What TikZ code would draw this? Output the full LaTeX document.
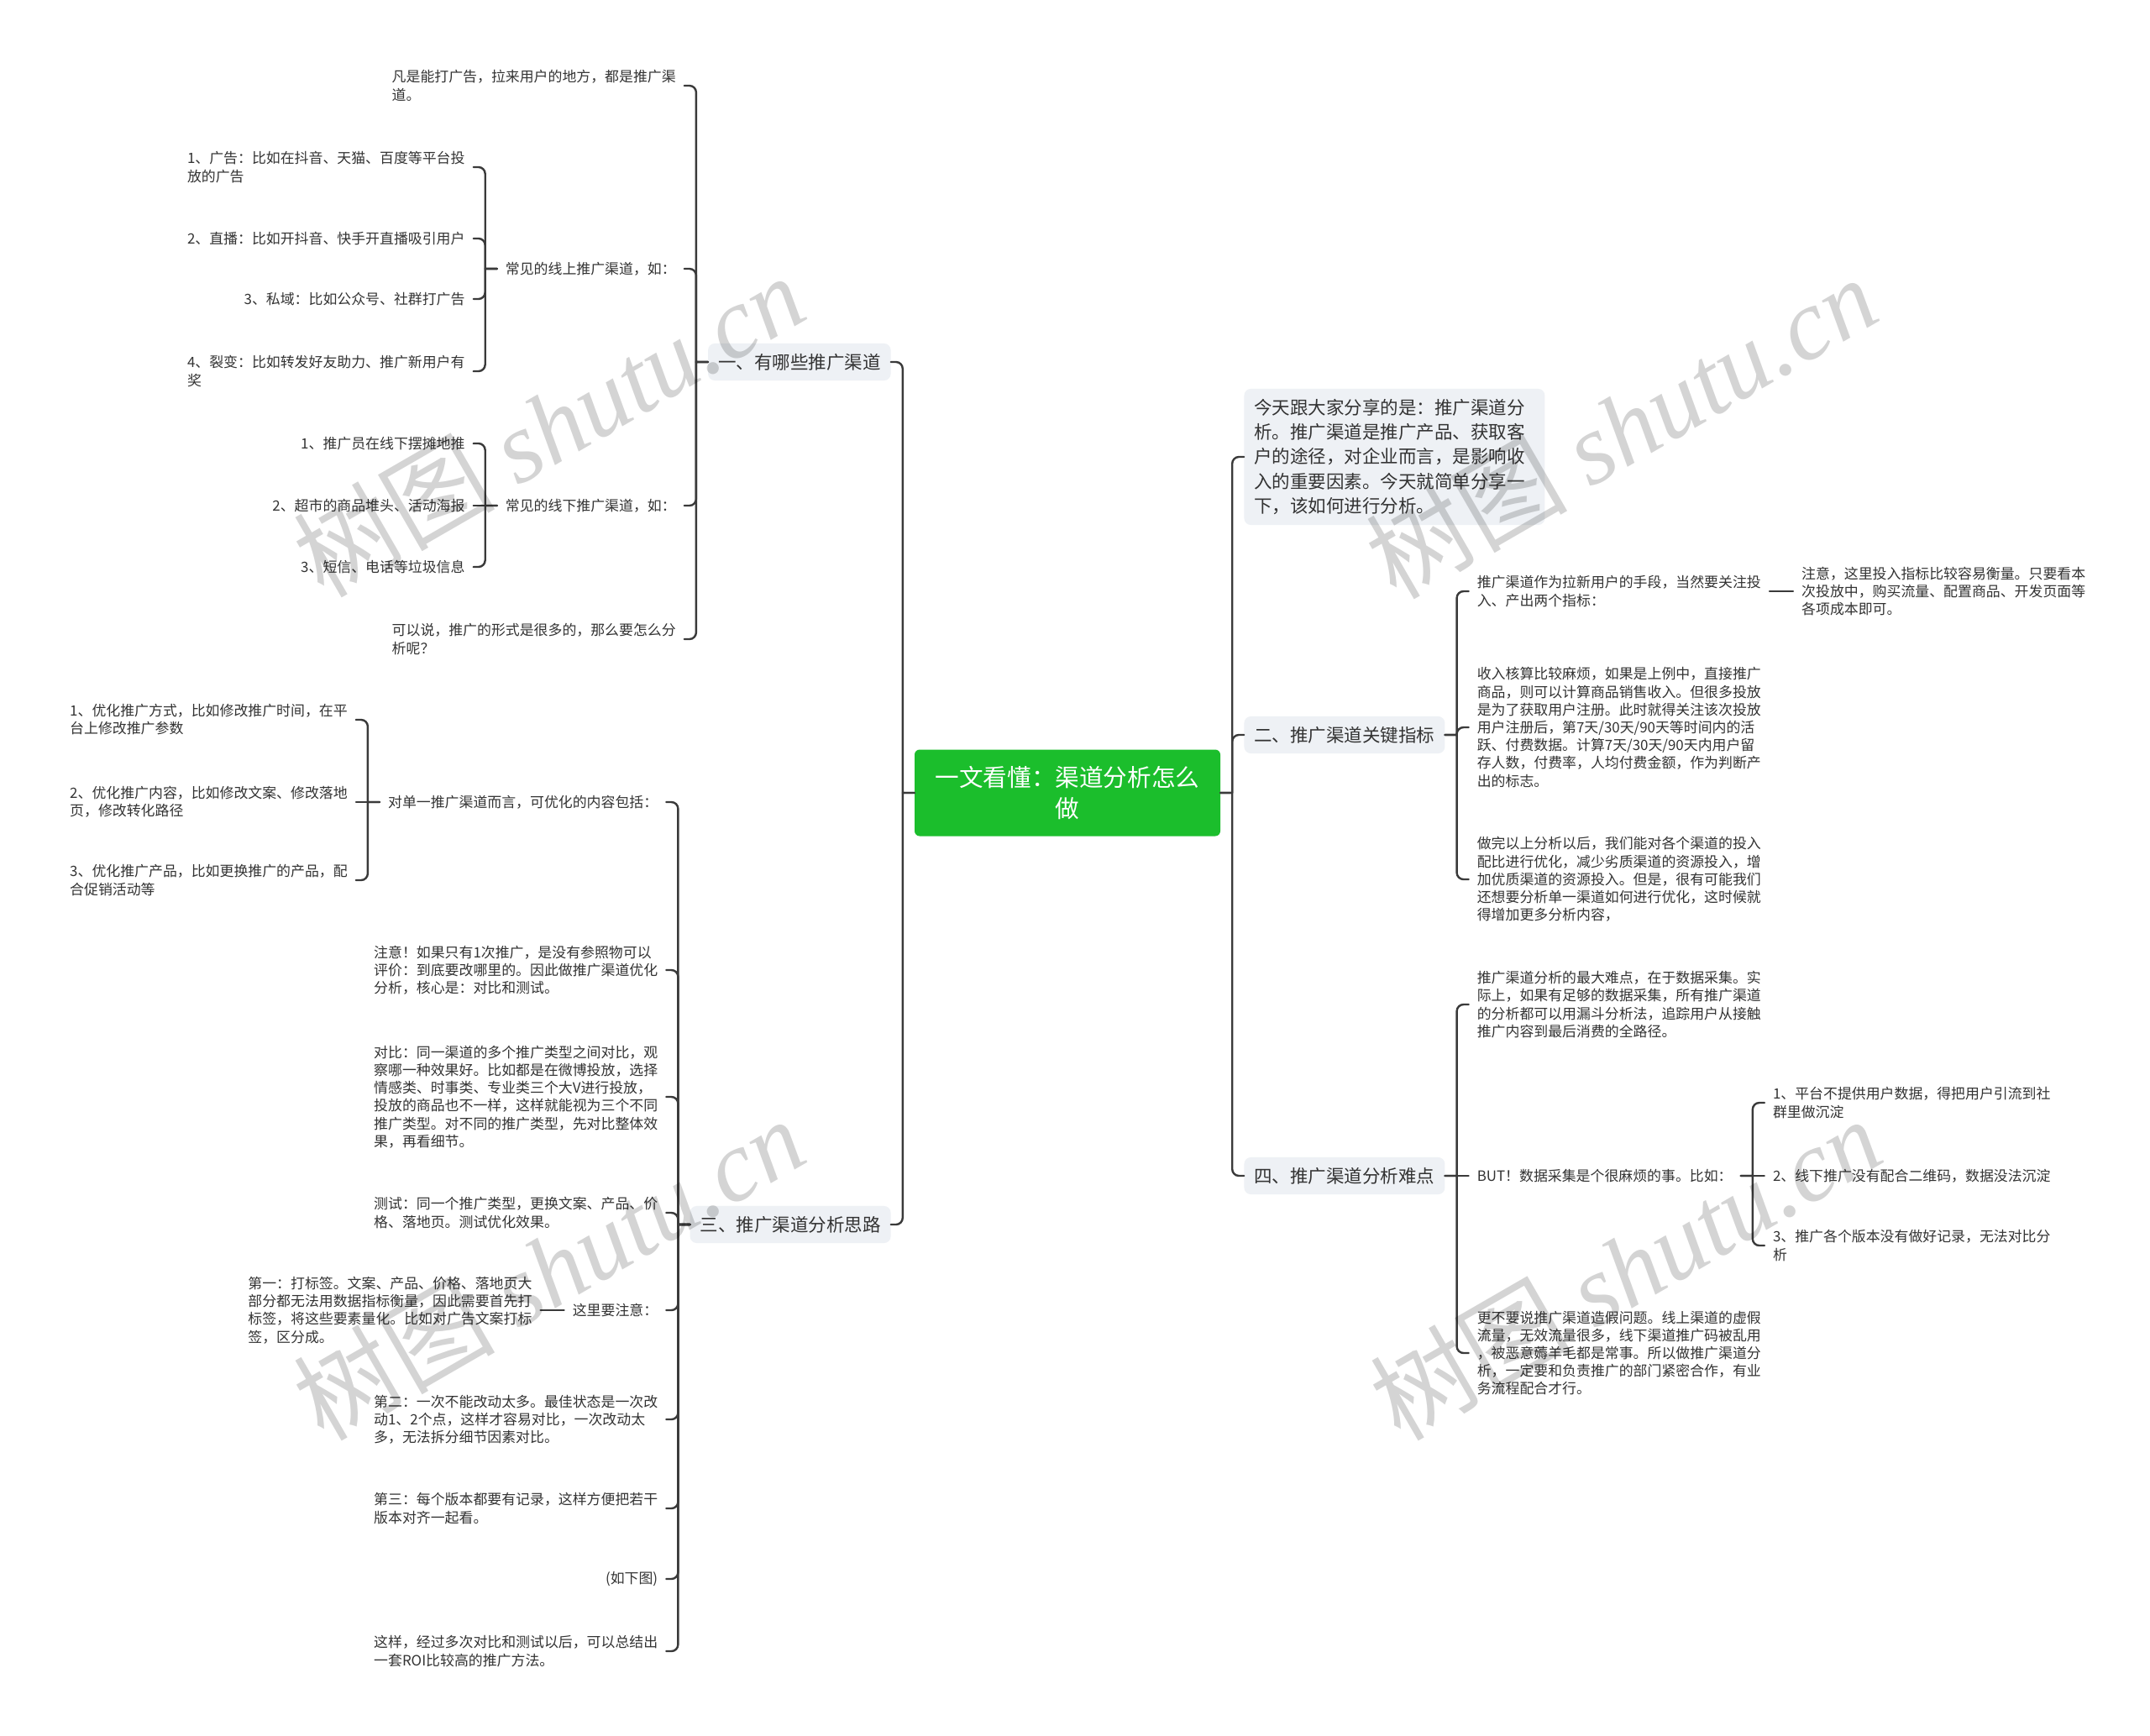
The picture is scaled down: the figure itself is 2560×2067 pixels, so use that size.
\documentclass[tikz,border=0pt]{standalone}
\usepackage{fontspec}
\setmainfont{Noto Sans CJK SC}
\newfontfamily\wmlatin{Liberation Serif}
\usepackage{xcolor}
\usepackage{tikz}
\usetikzlibrary{positioning, calc}
\definecolor{ink}{HTML}{333333}
\definecolor{wire}{HTML}{3A3A3A}
\definecolor{rootgreen}{HTML}{1BBE2C}
\definecolor{topicbg}{HTML}{EEF1F5}
\tikzset{
  root/.style={fill=rootgreen, rounded corners=6, text=white, align=center,
    font=\fontsize{28.6}{37}\selectfont, minimum width=364, minimum height=103},
  topic/.style={fill=topicbg, rounded corners=8, text=ink,
    font=\fontsize{21.5}{29.4}\selectfont, inner xsep=12, inner ysep=12},
  leaf/.style={text=ink, align=left, font=\fontsize{16.9}{21.2}\selectfont,
    inner xsep=10, inner ysep=4},
  lleaf/.style={leaf, anchor=east},
  rleaf/.style={leaf, anchor=west},
  conn/.style={draw=wire, line width=2.4, rounded corners=8, line cap=round},
  ltree/.style={to path={-- ++(-14,0) ++(0,0) |- (\tikztotarget)}},
  rtree/.style={to path={-- ++(14,0) ++(0,0) |- (\tikztotarget)}},
  wmark/.style={text=black, opacity=0.17, rotate=30,
    font=\fontsize{120}{120}\selectfont},
}

\begin{document}
\begin{tikzpicture}[x=1pt, y=-1pt]
  \fill[white] (0,0) rectangle (2560,2067);
  \useasboundingbox (0,0) rectangle (2560,2067);

  % centre and main topics
  \node[root] (root) at (1271,944) {一文看懂：渠道分析怎么\\做};
  \coordinate (rootL) at ([xshift=-28]root.west);
  \coordinate (rootR) at ([xshift=28]root.east);

  \node[topic, anchor=east] (t1) at (rootL |- 0,431) {一、有哪些推广渠道};
  \node[topic, anchor=east] (t3) at (rootL |- 0,1458) {三、推广渠道分析思路};
  \node[topic, anchor=west, align=left, text width=334] (t0) at (rootR |- 0,544)
    {今天跟大家分享的是：推广渠道分\\析。推广渠道是推广产品、获取客\\户的途径，对企业而言，是影响收\\入的重要因素。今天就简单分享一\\下，该如何进行分析。};
  \node[topic, anchor=west] (t2) at (rootR |- 0,875) {二、推广渠道关键指标};
  \node[topic, anchor=west] (t4) at (rootR |- 0,1400) {四、推广渠道分析难点};

  % 一
  \coordinate (t1k) at ([xshift=-28]t1.west);
  \node[lleaf] (a1) at (t1k |- 0,102) {凡是能打广告，拉来用户的地方，都是推广渠\\道。};
  \node[lleaf] (a2) at (t1k |- 0,320) {常见的线上推广渠道，如：};
  \node[lleaf] (a3) at (t1k |- 0,602) {常见的线下推广渠道，如：};
  \node[lleaf] (a4) at (t1k |- 0,761) {可以说，推广的形式是很多的，那么要怎么分\\析呢？};

  \coordinate (a2k) at ([xshift=-28]a2.west);
  \node[lleaf] (a21) at (a2k |- 0,199) {1、广告：比如在抖音、天猫、百度等平台投\\放的广告};
  \node[lleaf] (a22) at (a2k |- 0,284) {2、直播：比如开抖音、快手开直播吸引用户};
  \node[lleaf] (a23) at (a2k |- 0,356) {3、私域：比如公众号、社群打广告};
  \node[lleaf] (a24) at (a2k |- 0,442) {4、裂变：比如转发好友助力、推广新用户有\\奖};

  \coordinate (a3k) at ([xshift=-28]a3.west);
  \node[lleaf] (a31) at (a3k |- 0,528) {1、推广员在线下摆摊地推};
  \node[lleaf] (a32) at (a3k |- 0,602) {2、超市的商品堆头、活动海报};
  \node[lleaf] (a33) at (a3k |- 0,675) {3、短信、电话等垃圾信息};

  % 三
  \coordinate (t3k) at ([xshift=-28]t3.west);
  \node[lleaf] (d1) at (t3k |- 0,955) {对单一推广渠道而言，可优化的内容包括：};
  \node[lleaf] (d2) at (t3k |- 0,1155) {注意！如果只有1次推广，是没有参照物可以\\评价：到底要改哪里的。因此做推广渠道优化\\分析，核心是：对比和测试。};
  \node[lleaf] (d3) at (t3k |- 0,1306) {对比：同一渠道的多个推广类型之间对比，观\\察哪一种效果好。比如都是在微博投放，选择\\情感类、时事类、专业类三个大V进行投放，\\投放的商品也不一样，这样就能视为三个不同\\推广类型。对不同的推广类型，先对比整体效\\果，再看细节。};
  \node[lleaf] (d4) at (t3k |- 0,1444) {测试：同一个推广类型，更换文案、产品、价\\格、落地页。测试优化效果。};
  \node[lleaf] (d5) at (t3k |- 0,1560) {这里要注意：};
  \node[lleaf] (d6) at (t3k |- 0,1690) {第二：一次不能改动太多。最佳状态是一次改\\动1、2个点，这样才容易对比，一次改动太\\多，无法拆分细节因素对比。};
  \node[lleaf] (d7) at (t3k |- 0,1796) {第三：每个版本都要有记录，这样方便把若干\\版本对齐一起看。};
  \node[lleaf] (d8) at (t3k |- 0,1880) {(如下图)};
  \node[lleaf] (d9) at (t3k |- 0,1966) {这样，经过多次对比和测试以后，可以总结出\\一套ROI比较高的推广方法。};

  \coordinate (d1k) at ([xshift=-28]d1.west);
  \node[lleaf] (d11) at (d1k |- 0,857) {1、优化推广方式，比如修改推广时间，在平\\台上修改推广参数};
  \node[lleaf] (d12) at (d1k |- 0,955) {2、优化推广内容，比如修改文案、修改落地\\页，修改转化路径};
  \node[lleaf] (d13) at (d1k |- 0,1048) {3、优化推广产品，比如更换推广的产品，配\\合促销活动等};

  \coordinate (d5k) at ([xshift=-28]d5.west);
  \node[lleaf] (e1) at (d5k) {第一：打标签。文案、产品、价格、落地页大\\部分都无法用数据指标衡量，因此需要首先打\\标签，将这些要素量化。比如对广告文案打标\\签，区分成。};

  % 二
  \coordinate (t2k) at ([xshift=28]t2.east);
  \node[rleaf] (b1) at (t2k |- 0,704) {推广渠道作为拉新用户的手段，当然要关注投\\入、产出两个指标：};
  \node[rleaf] (b2) at (t2k |- 0,866) {收入核算比较麻烦，如果是上例中，直接推广\\商品，则可以计算商品销售收入。但很多投放\\是为了获取用户注册。此时就得关注该次投放\\用户注册后，第7天/30天/90天等时间内的活\\跃、付费数据。计算7天/30天/90天内用户留\\存人数，付费率，人均付费金额，作为判断产\\出的标志。};
  \node[rleaf] (b3) at (t2k |- 0,1047) {做完以上分析以后，我们能对各个渠道的投入\\配比进行优化，减少劣质渠道的资源投入，增\\加优质渠道的资源投入。但是，很有可能我们\\还想要分析单一渠道如何进行优化，这时候就\\得增加更多分析内容，};

  \coordinate (b1k) at ([xshift=28]b1.east);
  \node[rleaf] (g1) at (b1k) {注意，这里投入指标比较容易衡量。只要看本\\次投放中，购买流量、配置商品、开发页面等\\各项成本即可。};

  % 四
  \coordinate (t4k) at ([xshift=28]t4.east);
  \node[rleaf] (h1) at (t4k |- 0,1196) {推广渠道分析的最大难点，在于数据采集。实\\际上，如果有足够的数据采集，所有推广渠道\\的分析都可以用漏斗分析法，追踪用户从接触\\推广内容到最后消费的全路径。};
  \node[rleaf] (h2) at (t4k) {BUT！数据采集是个很麻烦的事。比如：};
  \node[rleaf] (h3) at (t4k |- 0,1611) {更不要说推广渠道造假问题。线上渠道的虚假\\流量，无效流量很多，线下渠道推广码被乱用\\，被恶意薅羊毛都是常事。所以做推广渠道分\\析，一定要和负责推广的部门紧密合作，有业\\务流程配合才行。};

  \coordinate (h2k) at ([xshift=28]h2.east);
  \node[rleaf] (i1) at (h2k |- 0,1313) {1、平台不提供用户数据，得把用户引流到社\\群里做沉淀};
  \node[rleaf] (i2) at (h2k) {2、线下推广没有配合二维码，数据没法沉淀};
  \node[rleaf] (i3) at (h2k |- 0,1483) {3、推广各个版本没有做好记录，无法对比分\\析};

  % connectors
  \foreach \kid in {t1,t3}
    \draw[conn] (root.west) to[ltree] (\kid.east);
  \foreach \kid in {t0,t2,t4}
    \draw[conn] (root.east) to[rtree] (\kid.west);
  \foreach \kid in {a1,a2,a3,a4}
    \draw[conn] (t1.west) to[ltree] (\kid.east);
  \foreach \kid in {a21,a22,a23,a24}
    \draw[conn] (a2.west) to[ltree] (\kid.east);
  \foreach \kid in {a31,a33}
    \draw[conn] (a3.west) to[ltree] (\kid.east);
  \draw[conn] (a3.west) -- (a32.east);
  \foreach \kid in {d1,d2,d3,d4,d5,d6,d7,d8,d9}
    \draw[conn] (t3.west) to[ltree] (\kid.east);
  \foreach \kid in {d11,d13}
    \draw[conn] (d1.west) to[ltree] (\kid.east);
  \draw[conn] (d1.west) -- (d12.east);
  \draw[conn] (d5.west) -- (e1.east);
  \foreach \kid in {b1,b2,b3}
    \draw[conn] (t2.east) to[rtree] (\kid.west);
  \draw[conn] (b1.east) -- (g1.west);
  \foreach \kid in {h1,h3}
    \draw[conn] (t4.east) to[rtree] (\kid.west);
  \draw[conn] (t4.east) -- (h2.west);
  \foreach \kid in {i1,i3}
    \draw[conn] (h2.east) to[rtree] (\kid.west);
  \draw[conn] (h2.east) -- (i2.west);

  % watermark
  \node[wmark] (wm1) at (653,506) {树图 {\wmlatin\itshape shutu.cn}};
  \node[wmark] (wm2) at (1930,508) {树图 {\wmlatin\itshape shutu.cn}};
  \node[wmark] (wm3) at (653,1510) {树图 {\wmlatin\itshape shutu.cn}};
  \node[wmark] (wm4) at (1935,1510) {树图 {\wmlatin\itshape shutu.cn}};
\end{tikzpicture}
\end{document}
